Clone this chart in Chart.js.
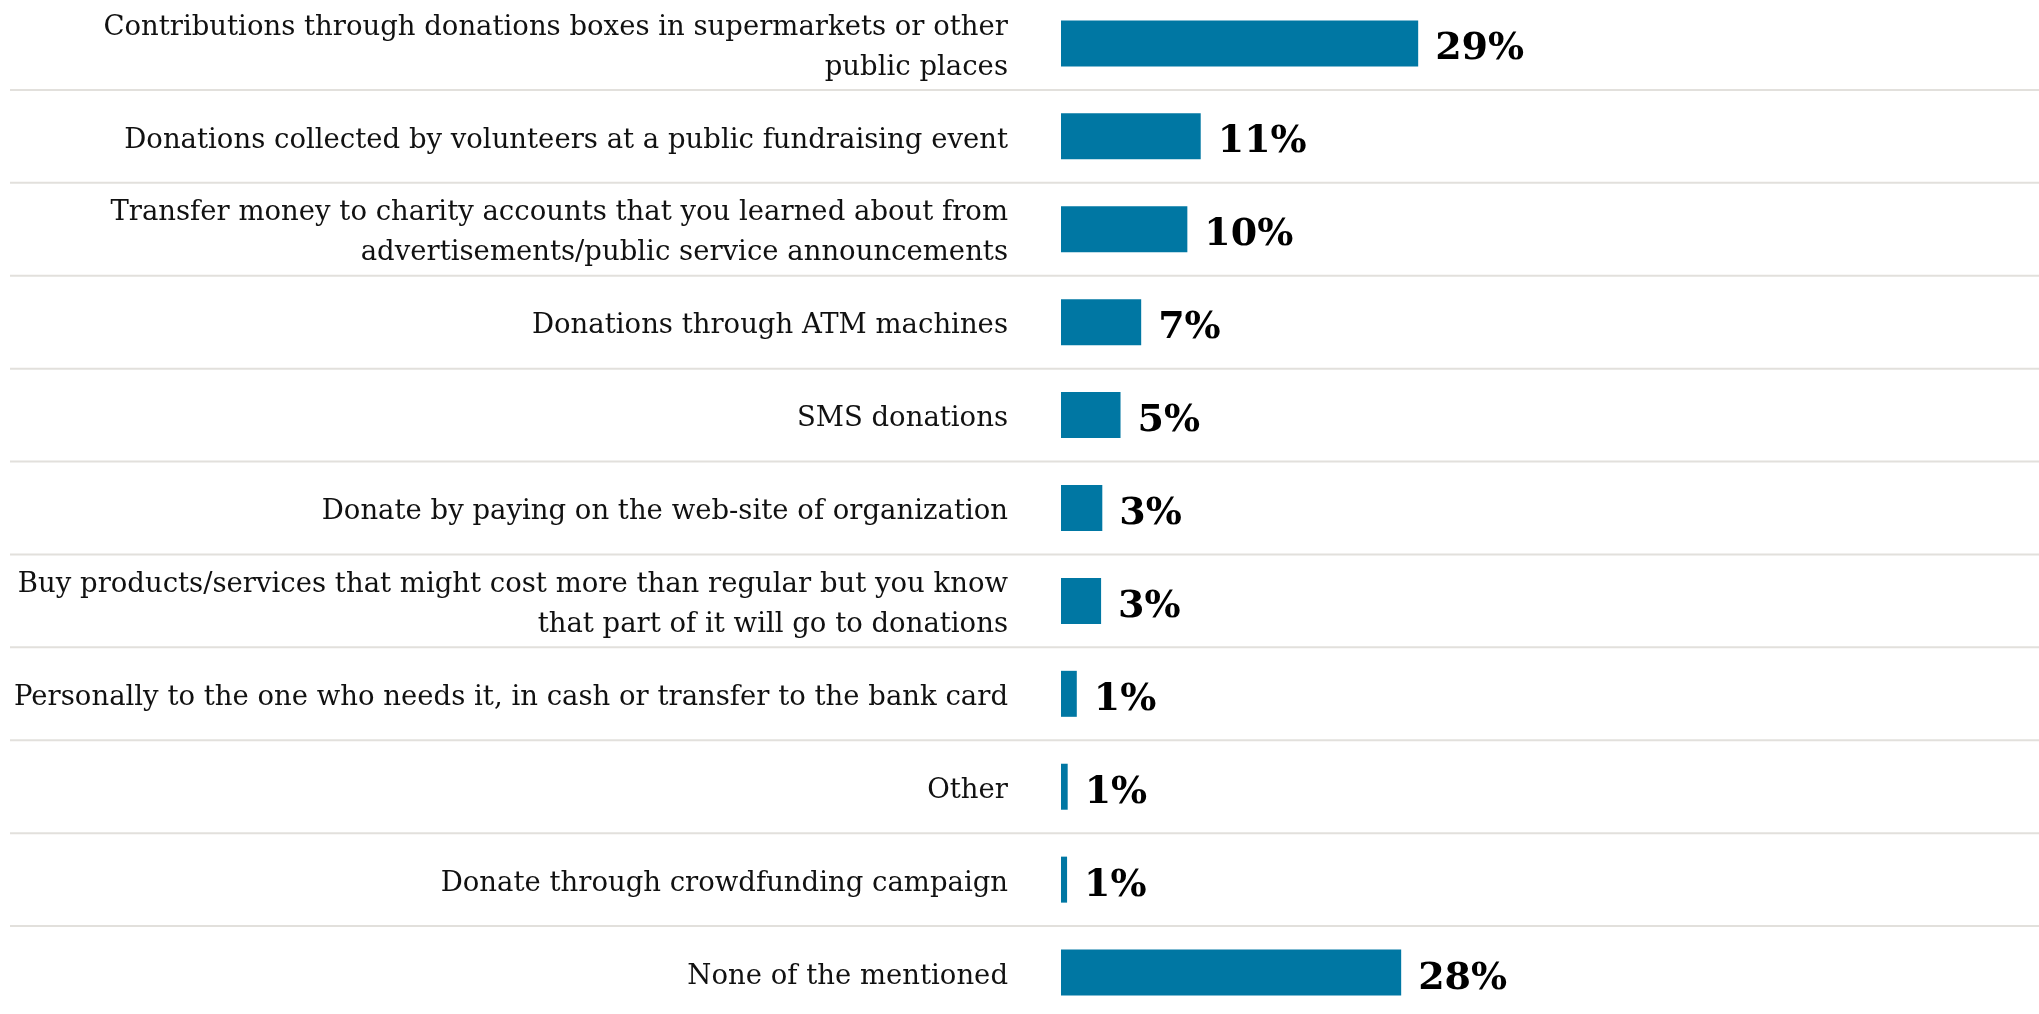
<!DOCTYPE html>
<html>
<head>
<meta charset="utf-8">
<script src="https://cdn.jsdelivr.net/npm/chart.js@4.4.1/dist/chart.umd.min.js"></script>
<style>
  body { margin: 0; background: #fff; overflow: hidden; }
  #wrap { position: absolute; left: 0; top: -3px; width: 2039px; height: 1022px; }
</style>
</head>
<body>
<div id="wrap"><canvas id="donChart"></canvas></div>
<script>
// data
const categories = [
    ['Contributions through donations boxes in supermarkets or other', 'public places'],
    'Donations collected by volunteers at a public fundraising event',
    ['Transfer money to charity accounts that you learned about from', 'advertisements/public service announcements'],
    'Donations through ATM machines',
    'SMS donations',
    'Donate by paying on the web-site of organization',
    ['Buy products/services that might cost more than regular but you know', 'that part of it will go to donations'],
    'Personally to the one who needs it, in cash or transfer to the bank card',
    'Other',
    'Donate through crowdfunding campaign',
    'None of the mentioned'
];
const shares = [29.4, 11.5, 10.4, 6.6, 4.9, 3.4, 3.3, 1.3, 0.55, 0.5, 28.0];
const shareLabels = ['29%', '11%', '10%', '7%', '5%', '3%', '3%', '1%', '1%', '1%', '28%'];

const barColor = '#0077a3';
const lineColor = '#e2e0dc';

// row separators, placed from the y scale
const separators = {
    id: 'separators',
    beforeDatasetsDraw(chart) {
        const y = chart.scales.y;
        const c = chart.ctx;
        c.save();
        c.strokeStyle = lineColor;
        c.lineWidth = 2;
        for (let i = 1; i < categories.length; i++) {
            const py = (y.getPixelForValue(i - 1) + y.getPixelForValue(i)) / 2;
            c.beginPath();
            c.moveTo(10, py);
            c.lineTo(chart.width, py);
            c.stroke();
        }
        c.restore();
    }
};

// value labels at bar ends
const valueLabels = {
    id: 'valueLabels',
    afterDatasetsDraw(chart) {
        const c = chart.ctx;
        const meta = chart.getDatasetMeta(0);
        c.save();
        c.font = 'bold 38px "DejaVu Serif"';
        c.fillStyle = '#000';
        c.textAlign = 'left';
        c.textBaseline = 'alphabetic';
        meta.data.forEach((bar, i) => {
            c.fillText(shareLabels[i], bar.x + 17, bar.y + 16);
        });
        c.restore();
    }
};

const ctx = document.getElementById('donChart').getContext('2d');
const donChart = new Chart(ctx, {
    type: 'bar',
    data: {
        labels: categories,
        datasets: [{
            data: shares,
            backgroundColor: barColor,
            borderWidth: 0,
            categoryPercentage: 1,
            barPercentage: 0.495
        }]
    },
    options: {
        indexAxis: 'y',
        responsive: true,
        maintainAspectRatio: false,
        animation: false,
        layout: { padding: 0 },
        scales: {
            x: {
                display: false,
                min: 0,
                max: 80.5
            },
            y: {
                afterFit(scale) {
                    scale.width = 1061;
                    scale.paddingTop = 0;
                    scale.paddingBottom = 0;
                },
                grid: { display: false, drawTicks: true, tickLength: 53 },
                border: { display: false },
                ticks: {
                    autoSkip: false,
                    padding: 0,
                    labelOffset: 4,
                    color: '#111',
                    font: { family: '"DejaVu Serif"', size: 27.5, lineHeight: 1.46 }
                }
            }
        },
        plugins: {
            legend: { display: false },
            tooltip: { enabled: false }
        }
    },
    plugins: [separators, valueLabels]
});
</script>
</body>
</html>
